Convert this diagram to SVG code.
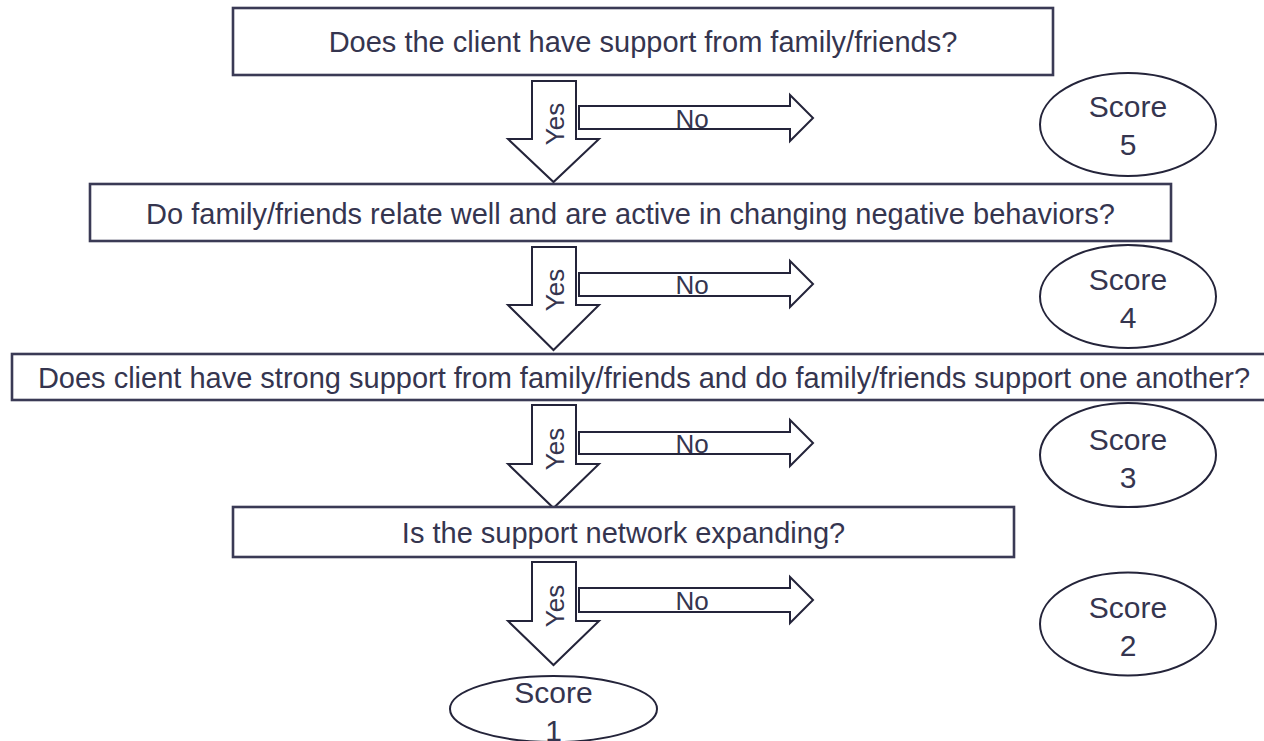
<svg xmlns="http://www.w3.org/2000/svg" width="1264" height="741" viewBox="0 0 1264 741">
  <style>
    .box { fill: #ffffff; stroke: #3a3a55; stroke-width: 2.6; }
    .oval { fill: #ffffff; stroke: #24243a; stroke-width: 2; }
    .arrow { fill: #ffffff; stroke: #24243a; stroke-width: 2; stroke-linejoin: miter; }
    .q { font-family: "Liberation Sans", Arial, sans-serif; font-size: 29px; fill: #35354f; text-anchor: middle; }
    .s { font-family: "Liberation Sans", Arial, sans-serif; font-size: 30px; fill: #35354f; text-anchor: middle; }
    .lbl { font-family: "Liberation Sans", Arial, sans-serif; font-size: 26px; fill: #35354f; text-anchor: middle; }
  </style>
  <rect width="1264" height="741" fill="#ffffff"/>

  <!-- Yes / No block arrows between the questions -->
  <g id="connectors">
    <g id="step1" transform="translate(0,81)">
      <polygon class="arrow" points="532,0 576,0 576,58 599,58 553.5,101 508,58 532,58"/>
      <polygon class="arrow" points="579,25 790,25 790,14 813,37 790,60 790,48 579,48"/>
      <text class="lbl" transform="translate(564,43) rotate(-90)">Yes</text>
      <text class="lbl" x="692" y="47">No</text>
    </g>
    <g id="step2" transform="translate(0,247)">
      <polygon class="arrow" points="532,0 576,0 576,58 599,58 553.5,103 508,58 532,58"/>
      <polygon class="arrow" points="579,26 790,26 790,14 813,37 790,60 790,49 579,49"/>
      <text class="lbl" transform="translate(564,43) rotate(-90)">Yes</text>
      <text class="lbl" x="692" y="47">No</text>
    </g>
    <g id="step3" transform="translate(0,405)">
      <polygon class="arrow" points="532,0 576,0 576,59 599,59 553.5,103 508,59 532,59"/>
      <polygon class="arrow" points="579,27 790,27 790,15 813,38 790,61 790,49 579,49"/>
      <text class="lbl" transform="translate(564,44) rotate(-90)">Yes</text>
      <text class="lbl" x="692" y="48">No</text>
    </g>
    <g id="step4" transform="translate(0,562)">
      <polygon class="arrow" points="532,0 576,0 576,59 599,59 553.5,103 508,59 532,59"/>
      <polygon class="arrow" points="579,26 790,26 790,15 813,38 790,61 790,50 579,50"/>
      <text class="lbl" transform="translate(564,44) rotate(-90)">Yes</text>
      <text class="lbl" x="692" y="48">No</text>
    </g>
  </g>

  <!-- Questions -->
  <g id="q1">
    <rect class="box" x="233" y="8" width="820" height="67"/>
    <text class="q" x="643" y="52">Does the client have support from family/friends?</text>
  </g>
  <g id="q2">
    <rect class="box" x="90" y="184" width="1081" height="57"/>
    <text class="q" x="630.5" y="224">Do family/friends relate well and are active in changing negative behaviors?</text>
  </g>
  <g id="q3">
    <rect class="box" x="12" y="354" width="1268" height="46"/>
    <text class="q" x="644" y="388">Does client have strong support from family/friends and do family/friends support one another?</text>
  </g>
  <g id="q4">
    <rect class="box" x="233" y="507" width="781" height="50"/>
    <text class="q" x="623.5" y="543">Is the support network expanding?</text>
  </g>

  <!-- Scores -->
  <g id="score5">
    <ellipse class="oval" cx="1128" cy="124.5" rx="88" ry="51.5"/>
    <text class="s" x="1128" y="117">Score</text>
    <text class="s" x="1128" y="155">5</text>
  </g>
  <g id="score4">
    <ellipse class="oval" cx="1128" cy="296.5" rx="88" ry="51.5"/>
    <text class="s" x="1128" y="290">Score</text>
    <text class="s" x="1128" y="328">4</text>
  </g>
  <g id="score3">
    <ellipse class="oval" cx="1128" cy="455" rx="88" ry="52"/>
    <text class="s" x="1128" y="450">Score</text>
    <text class="s" x="1128" y="488">3</text>
  </g>
  <g id="score2">
    <ellipse class="oval" cx="1128" cy="624" rx="88" ry="51.5"/>
    <text class="s" x="1128" y="618">Score</text>
    <text class="s" x="1128" y="656">2</text>
  </g>
  <!-- bottom oval runs off the lower edge, so its second line is clipped -->
  <g id="score1">
    <ellipse class="oval" cx="553.5" cy="709" rx="103.5" ry="33"/>
    <text class="s" x="553.5" y="703">Score</text>
    <text class="s" x="553.5" y="741">1</text>
  </g>
</svg>
